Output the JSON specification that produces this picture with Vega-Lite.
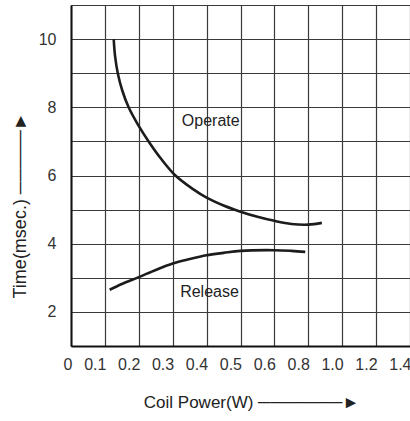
{
  "$schema": "https://vega.github.io/schema/vega-lite/v6.json",
  "width": 339,
  "height": 341,
  "autosize": "none",
  "padding": {"left": 71, "top": 5, "right": 0, "bottom": 75},
  "background": "white",
  "config": {
    "font": "Liberation Sans",
    "view": {"stroke": "#555", "strokeWidth": 1}
  },
  "datasets": {
    "curves": [
      {"series": "Operate", "power": 0.126, "time": 10.0},
      {"series": "Operate", "power": 0.130, "time": 9.5},
      {"series": "Operate", "power": 0.138, "time": 9.0},
      {"series": "Operate", "power": 0.151, "time": 8.5},
      {"series": "Operate", "power": 0.170, "time": 8.0},
      {"series": "Operate", "power": 0.197, "time": 7.5},
      {"series": "Operate", "power": 0.229, "time": 7.0},
      {"series": "Operate", "power": 0.265, "time": 6.5},
      {"series": "Operate", "power": 0.308, "time": 6.0},
      {"series": "Operate", "power": 0.36, "time": 5.6},
      {"series": "Operate", "power": 0.40, "time": 5.35},
      {"series": "Operate", "power": 0.45, "time": 5.12},
      {"series": "Operate", "power": 0.50, "time": 4.94},
      {"series": "Operate", "power": 0.55, "time": 4.79},
      {"series": "Operate", "power": 0.60, "time": 4.67},
      {"series": "Operate", "power": 0.70, "time": 4.58},
      {"series": "Operate", "power": 0.80, "time": 4.56},
      {"series": "Operate", "power": 0.88, "time": 4.61},
      {"series": "Release", "power": 0.114, "time": 2.65},
      {"series": "Release", "power": 0.15, "time": 2.82},
      {"series": "Release", "power": 0.20, "time": 3.02},
      {"series": "Release", "power": 0.25, "time": 3.23},
      {"series": "Release", "power": 0.30, "time": 3.42},
      {"series": "Release", "power": 0.35, "time": 3.55},
      {"series": "Release", "power": 0.40, "time": 3.66},
      {"series": "Release", "power": 0.45, "time": 3.73},
      {"series": "Release", "power": 0.50, "time": 3.79},
      {"series": "Release", "power": 0.60, "time": 3.81},
      {"series": "Release", "power": 0.70, "time": 3.79},
      {"series": "Release", "power": 0.782, "time": 3.76}
    ],
    "labels": [
      {"label": "Operate", "power": 0.327, "time": 7.6},
      {"label": "Release", "power": 0.322, "time": 2.58}
    ]
  },
  "layer": [
    {
      "data": {"name": "curves"},
      "mark": {"type": "line", "interpolate": "catmull-rom", "color": "#1c1c1c", "strokeWidth": 2.6},
      "encoding": {
        "x": {
          "field": "power",
          "type": "quantitative",
          "scale": {"domain": [0, 0.6, 1.4], "range": [0, 203.4, 339], "nice": false, "zero": false},
          "axis": {
            "values": [0, 0.1, 0.2, 0.3, 0.4, 0.5, 0.6, 0.8, 1.0, 1.2, 1.4],
            "tickCount": 30,
            "labelExpr": "datum.value == 0 ? '0' : format(datum.value, '.1f')",
            "title": "Coil Power(W)   ───────►",
            "titleFont": "Liberation Sans",
            "titleFontSize": 17,
            "titleFontWeight": "normal",
            "titleColor": "#222",
            "titleX": 180,
            "titleY": 56,
            "titleAlign": "center",
            "titleBaseline": "middle",
            "labelFont": "Liberation Sans",
            "labelFontSize": 16,
            "labelColor": "#333",
            "labelAlign": "right",
            "labelOffset": 1,
            "labelPadding": 10,
            "labelFlush": false,
            "labelOverlap": false,
            "labelBound": false,
            "ticks": false,
            "grid": true,
            "gridColor": "#3a3a3a",
            "gridWidth": 1.2,
            "domainColor": "#111",
            "domainWidth": 2
          }
        },
        "y": {
          "field": "time",
          "type": "quantitative",
          "scale": {"domain": [1, 11], "nice": false, "zero": false},
          "axis": {
            "values": [1, 2, 3, 4, 5, 6, 7, 8, 9, 10, 11],
            "tickCount": 30,
            "labelExpr": "(datum.value % 2 == 0 && datum.value < 11) ? datum.value : ''",
            "title": "Time(msec.)  ─────►",
            "titleFont": "Liberation Sans",
            "titleFontSize": 18,
            "titleFontWeight": "normal",
            "titleColor": "#222",
            "titleAngle": -90,
            "titleX": -51,
            "titleY": 200,
            "titleAlign": "center",
            "titleBaseline": "middle",
            "labelFont": "Liberation Sans",
            "labelFontSize": 16,
            "labelColor": "#333",
            "labelPadding": 15,
            "labelOverlap": false,
            "labelBound": false,
            "labelFlush": false,
            "ticks": false,
            "grid": true,
            "gridColor": "#3a3a3a",
            "gridWidth": 1.2,
            "domainColor": "#111",
            "domainWidth": 2
          }
        },
        "detail": {"field": "series"}
      }
    },
    {
      "data": {"name": "labels"},
      "mark": {"type": "text", "align": "left", "baseline": "middle", "font": "Liberation Sans", "fontSize": 16, "color": "#222"},
      "encoding": {
        "x": {"field": "power", "type": "quantitative"},
        "y": {"field": "time", "type": "quantitative"},
        "text": {"field": "label"}
      }
    }
  ]
}
